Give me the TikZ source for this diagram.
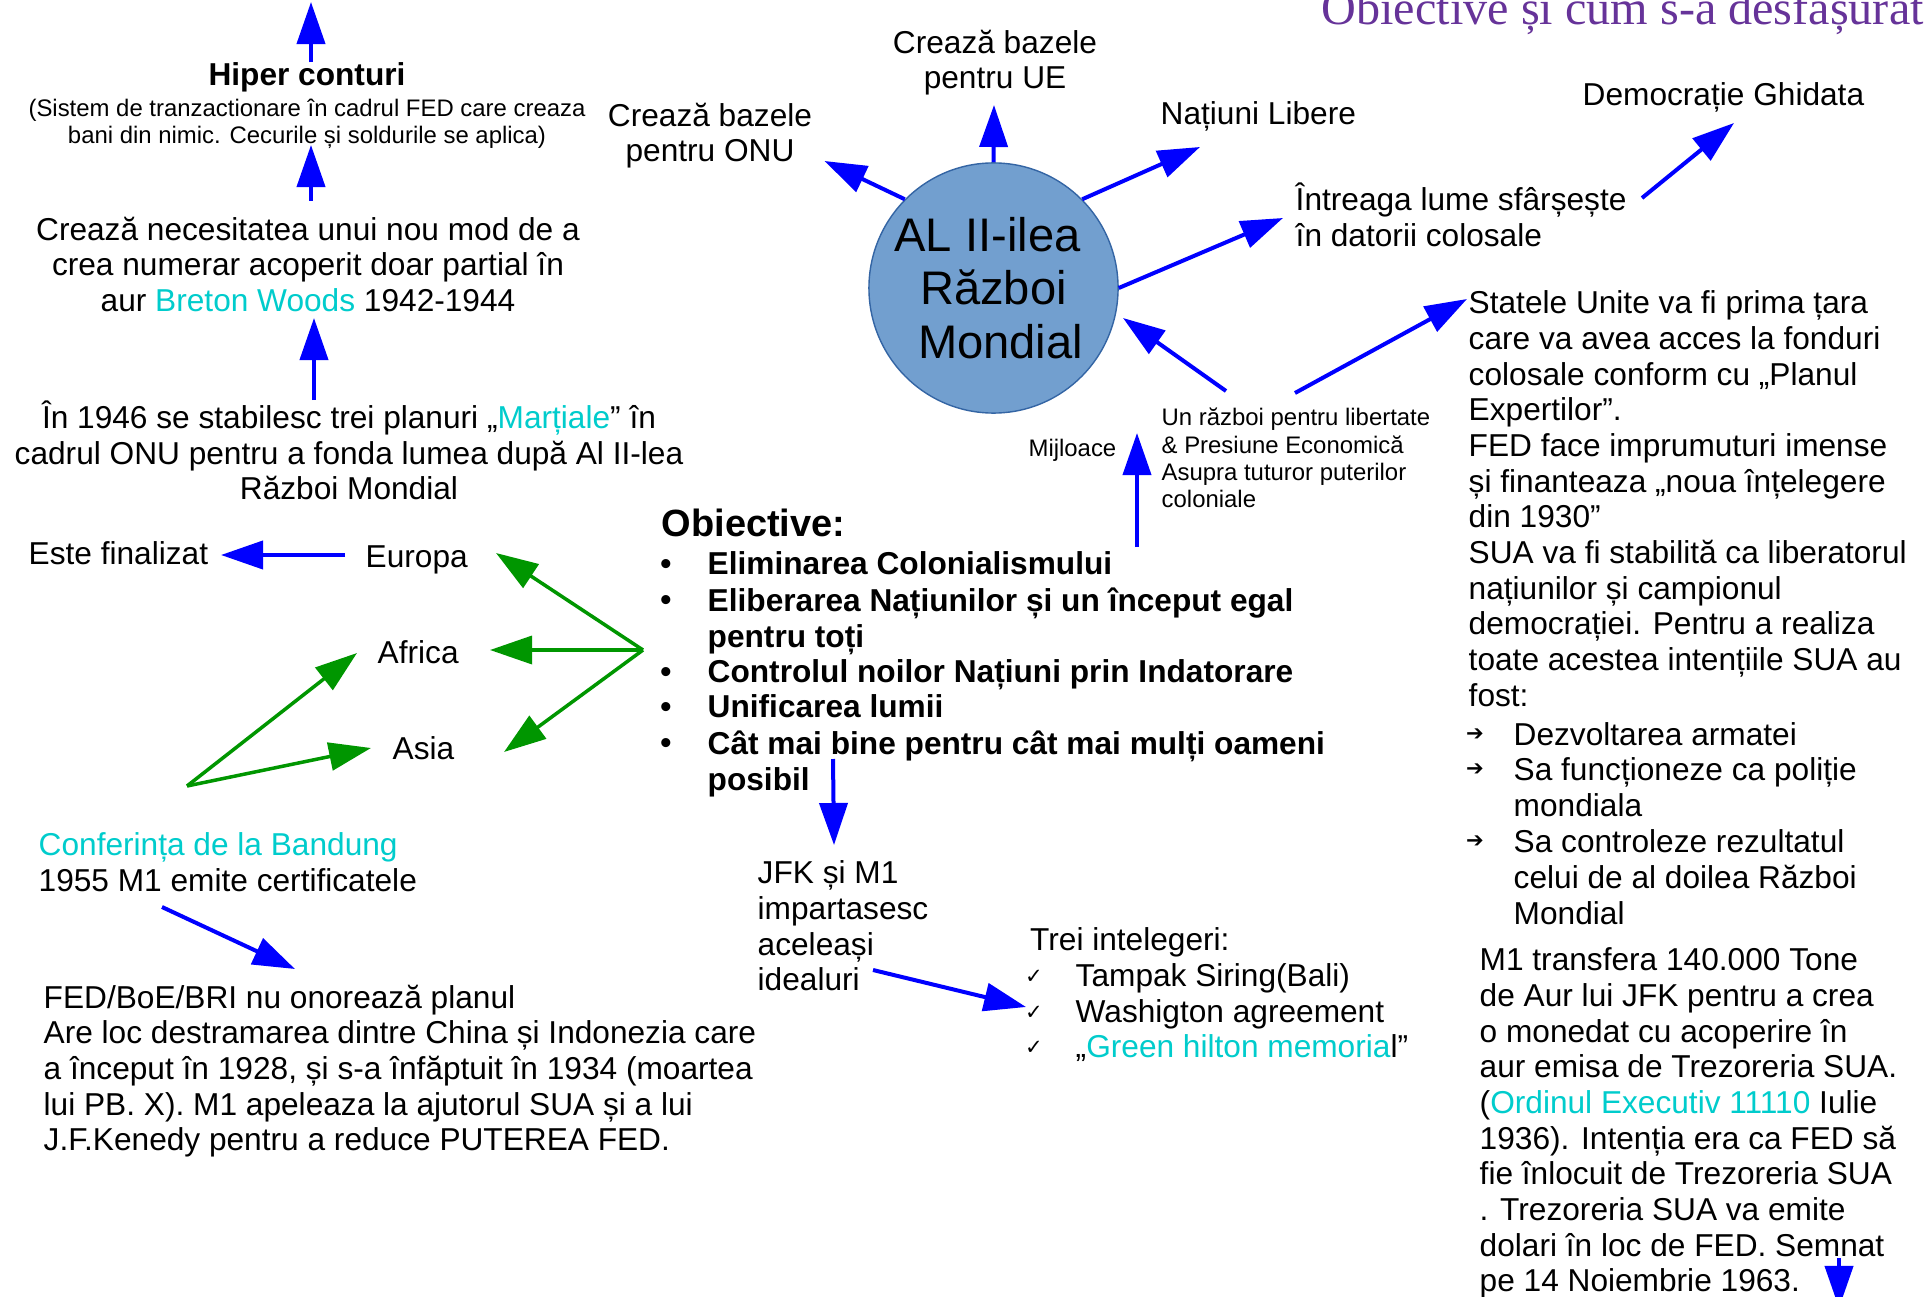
\documentclass[tikz,border=0pt]{standalone}
\usepackage{fontspec}
\setmainfont{Liberation Sans}
\newfontfamily\serifa{Liberation Serif}
\newfontfamily\simboluri{DejaVu Sans}
\usetikzlibrary{arrows.meta,shapes.geometric}

\definecolor{albastru}{RGB}{0,0,255}
\definecolor{verde}{RGB}{0,150,0}
\definecolor{turcoaz}{RGB}{0,204,204}
\definecolor{mov}{RGB}{102,51,153}
\definecolor{cercfill}{RGB}{114,159,207}
\definecolor{cercdraw}{RGB}{52,101,164}

\begin{document}
\begin{tikzpicture}[
    x=0.01cm, y=-0.01cm,
    corp/.style={inner sep=0pt, font=\fontsize{9}{10.15}\selectfont},
    gros/.style={inner sep=0pt, font=\bfseries\fontsize{9}{10.15}\selectfont},
    mic/.style={inner sep=0pt, font=\fontsize{6.8}{7.75}\selectfont},
    mare/.style={inner sep=0pt, font=\fontsize{13.4}{15.2}\selectfont},
    cerc/.style={ellipse, draw=cercdraw, fill=cercfill, line width=0.4pt,
                 minimum width=2.49cm, minimum height=2.5cm, inner sep=0pt},
    sageata/.style={draw=albastru, line width=0.4mm,
                    -{Triangle[length=4.2mm,width=2.8mm]}},
    sverde/.style={draw=verde, line width=0.35mm,
                   -{Triangle[length=4.2mm,width=2.8mm]}}]

  \path[use as bounding box, fill=white] (0,0) rectangle (1930,1297);

  % --- titlul, taiat sus ---
  \node[inner sep=0pt, anchor=base west, text=mov,
        font=\serifa\fontsize{13.7}{16}\selectfont] (titlu) at (1321,25)
        {Obiective și cum s-a desfășurat};

  % --- coloana din stanga ---
  \node[gros, anchor=base] (hiper) at (307,86) {Hiper conturi};
  \node[mic, align=center, anchor=north] (hiperNota) at (307,98)
        {(Sistem de tranzactionare în cadrul FED care creaza\\
         bani din nimic. Cecurile și soldurile se aplica)};
  \node[corp, align=center, anchor=north] (nec) at (308,216)
        {Crează necesitatea unui nou mod de a\\
         crea numerar acoperit doar partial în\\
         aur \textcolor{turcoaz}{Breton Woods} 1942-1944};
  \node[corp, align=center, anchor=north] (plan) at (349,400)
        {În 1946 se stabilesc trei planuri „\textcolor{turcoaz}{Marțiale}” în\\
         cadrul ONU pentru a fonda lumea după Al II-lea\\
         Război Mondial};

  \coordinate (vfSus) at (311,2);
  \coordinate (vfHiper) at (311,145);
  \coordinate (vfNec) at (314,318);
  \draw[sageata] (hiper.north -| vfSus) -- (vfSus);
  \draw[sageata, shorten <=1.5mm] (nec.north -| vfHiper) -- (vfHiper);
  \draw[sageata] (plan.north -| vfNec) -- (vfNec);

  % --- continentele ---
  \node[corp, anchor=base west] (fin) at (28,564) {Este finalizat};
  \node[corp, anchor=base west] (eur) at (365,567) {Europa};
  \node[corp, anchor=base west] (afr) at (377,663) {Africa};
  \node[corp, anchor=base west] (asia) at (392,759) {Asia};

  \coordinate (plecEur) at (345,555);
  \coordinate (vfFin) at (221,555);
  \draw[sageata] (plecEur) -- (vfFin);

  \coordinate (ramDreapta) at (643,650);
  \coordinate (ramStanga) at (187,786);
  \coordinate (vEur) at (496,553);
  \coordinate (vAfr) at (490,650);
  \coordinate (vAsia) at (504,752);
  \coordinate (vAfr2) at (357,653);
  \coordinate (vAsia2) at (371,748);
  \draw[sverde] (ramDreapta) -- (vEur);
  \draw[sverde] (ramDreapta) -- (vAfr);
  \draw[sverde] (ramDreapta) -- (vAsia);
  \draw[sverde] (ramStanga) -- (vAfr2);
  \draw[sverde] (ramStanga) -- (vAsia2);

  % --- Bandung si FED ---
  \node[corp, align=left, anchor=north west] (band) at (38,832)
        {\textcolor{turcoaz}{Conferința de la Bandung}\\
         1955 M1 emite certificatele};
  \node[corp, align=left, anchor=north west] (fed) at (43,984)
        {FED/BoE/BRI nu onorează planul\\
         Are loc destramarea dintre China și Indonezia care\\
         a început în 1928, și s-a înfăptuit în 1934 (moartea\\
         lui PB. X). M1 apeleaza la ajutorul SUA și a lui\\
         J.F.Kenedy pentru a reduce PUTEREA FED.};
  \coordinate (plecBand) at (162,907);
  \coordinate (vfFed) at (295,969);
  \draw[sageata] (plecBand) -- (vfFed);

  % --- cercul central si ce iese din el ---
  \node[cerc] (razboi) at (993.5,288) {};
  \node[mare, align=center] (razboiText) at (razboi.center)
        {AL II-ilea\hspace*{0.12cm}\\Război\\\hspace*{0.14cm}Mondial};

  \node[corp, align=center, anchor=north] (onu) at (710,102)
        {Crează bazele\\pentru ONU};
  \node[corp, align=center, anchor=north] (ue) at (995,29)
        {Crează bazele\\pentru UE};
  \node[corp, anchor=base west] (libere) at (1160,125) {Națiuni Libere};
  \node[corp, align=left, anchor=north west] (intreaga) at (1295,182)
        {Întreaga lume sfârșește\\în datorii colosale};
  \node[corp, anchor=base west] (demo) at (1582,106) {Democrație Ghidata};

  \coordinate (vfOnu) at (824.5,161);
  \coordinate (vfUe) at (994,105);
  \coordinate (vfLibere) at (1200,147);
  \coordinate (vfIntreaga) at (1283,218);
  \coordinate (plecIntreaga) at (1642,198);
  \coordinate (vfDemo) at (1734,123);
  \draw[sageata] (razboi.135) -- (vfOnu);
  \draw[sageata] (razboi.north) -- (vfUe);
  \draw[sageata] (razboi.45) -- (vfLibere);
  \draw[sageata] (razboi.east) -- (vfIntreaga);
  \draw[sageata] (plecIntreaga) -- (vfDemo);

  % --- mijloace ---
  \node[mic, align=left, anchor=north west] (libertate) at (1161,407.5)
        {Un război pentru libertate\\
         \& Presiune Economică\\
         Asupra tuturor puterilor\\
         coloniale};
  \node[mic, anchor=base east] (mijl) at (1117,456) {Mijloace};

  \coordinate (plecRazboi) at (1226,391);
  \coordinate (vfRazboi) at (1123,318);
  \coordinate (plecStatele) at (1295,393);
  \coordinate (vfStatele) at (1467,299);
  \coordinate (plecMijl) at (1137,547);
  \coordinate (vfMijl) at (1137,433);
  \draw[sageata] (plecRazboi) -- (vfRazboi);
  \draw[sageata] (plecStatele) -- (vfStatele);
  \draw[sageata] (plecMijl) -- (vfMijl);

  % --- obiectivele ---
  \node[inner sep=0pt, anchor=base west,
        font=\bfseries\fontsize{10.8}{12}\selectfont] (obj) at (661,536)
        {Obiective:};
  \foreach \y/\txt in {574/{Eliminarea Colonialismului},
                       610/{Eliberarea Națiunilor și un început egal\\pentru toți},
                       682/{Controlul noilor Națiuni prin Indatorare},
                       717/{Unificarea lumii},
                       753/{Cât mai bine pentru cât mai mulți oameni\\posibil}}{
    \node[gros, anchor=base] (bul\y) at (666,\y) {•};
    \node[gros, align=left, anchor=north west] (ob\y) at (707,\y-23) {\txt};
  }

  \coordinate (plecPosibil) at (833,759);
  \coordinate (vfJfk) at (834,845);
  \draw[sageata] (plecPosibil) -- (vfJfk);

  % --- JFK si intelegerile ---
  \node[corp, align=left, anchor=north west] (jfk) at (757,860)
        {JFK și M1\\impartasesc\\aceleași\\idealuri};
  \node[corp, anchor=base west] (trei) at (1029.5,950) {Trei intelegeri:};
  \foreach \y/\txt in {986/{Tampak Siring(Bali)},
                       1022/{Washigton agreement},
                       1057/{„\textcolor{turcoaz}{Green hilton memoria}l”}}{
    \node[inner sep=0pt, font=\simboluri\fontsize{6}{7}\selectfont]
          (bifa\y) at (1034,\y-9) {✓};
    \node[corp, anchor=base west] (int\y) at (1075,\y) {\txt};
  }
  \coordinate (plecJfk) at (873,970);
  \coordinate (vfTrei) at (1026,1007);
  \draw[sageata] (plecJfk) -- (vfTrei);

  % --- coloana din dreapta ---
  \node[corp, align=left, anchor=north west] (statele) at (1468,290)
        {Statele Unite va fi prima țara\\
         care va avea acces la fonduri\\
         colosale conform cu „Planul\\
         Expertilor”.\\
         FED face imprumuturi imense\\
         și finanteaza „noua înțelegere\\
         din 1930”\\
         SUA va fi stabilită ca liberatorul\\
         națiunilor și campionul\\
         democrației. Pentru a realiza\\
         toate acestea intențiile SUA au\\
         fost:};
  \foreach \y/\txt in {745/{Dezvoltarea armatei},
                       780/{Sa funcționeze ca poliție\\mondiala},
                       852/{Sa controleze rezultatul\\celui de al doilea Război\\Mondial}}{
    \node[inner sep=0pt, font=\simboluri\fontsize{6}{7}\selectfont]
          (sag\y) at (1475,\y-10) {➔};
    \node[corp, align=left, anchor=north west] (sc\y) at (1513,\y-23) {\txt};
  }
  \node[corp, align=left, anchor=north west] (m1) at (1479,947)
        {M1 transfera 140.000 Tone\\
         de Aur lui JFK pentru a crea\\
         o monedat cu acoperire în\\
         aur emisa de Trezoreria SUA.\\
         (\textcolor{turcoaz}{Ordinul Executiv 11110} Iulie\\
         1936). Intenția era ca FED să\\
         fie înlocuit de Trezoreria SUA\\
         . Trezoreria SUA va emite\\
         dolari în loc de FED. Semnat\\
         pe 14 Noiembrie 1963.};
  \coordinate (plecM1) at (1839,1258);
  \coordinate (vfJos) at (1839,1308);
  \draw[sageata] (plecM1) -- (vfJos);

\end{tikzpicture}
\end{document}
